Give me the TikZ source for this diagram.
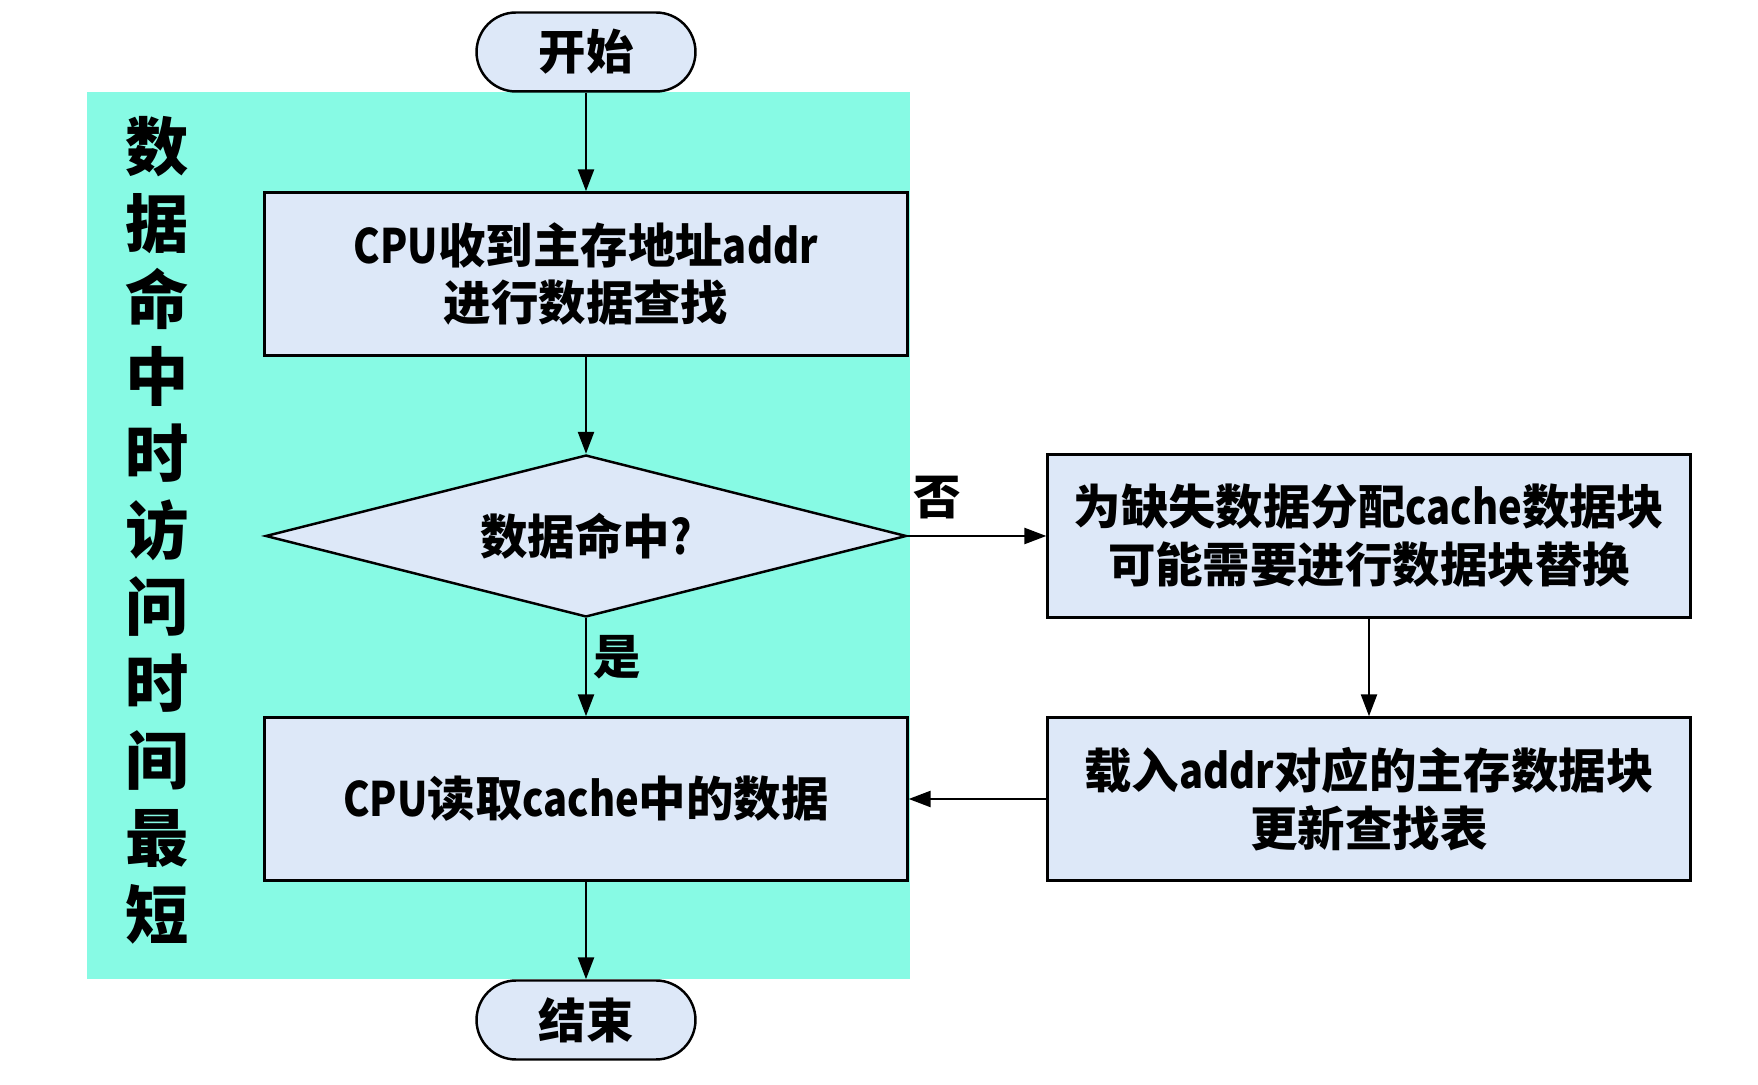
\documentclass[tikz,border=0pt]{standalone}
\usepackage{fontspec}
\setmainfont{Noto Sans CJK SC}
\newfontfamily\narrowfont{Noto Sans CJK SC}[FakeStretch=0.84]
\newcommand\latn[1]{{\narrowfont\bfseries #1}}
\usepackage{tikz}
\usetikzlibrary{shapes.geometric}
\usetikzlibrary{arrows.meta}

\definecolor{hitbg}{RGB}{135,250,228}
\definecolor{boxbg}{RGB}{221,232,248}
\tikzset{
	flow/.style={draw,line width=1.4pt,fill=boxbg,align=center,font=\bfseries\fontsize{27}{33}\selectfont},
	proc/.style={flow,rectangle,minimum width=12.86cm,minimum height=3.26cm},
	term/.style={flow,rectangle,rounded corners=0.79cm,minimum width=4.38cm,minimum height=1.58cm},
	cond/.style={flow,diamond,aspect=4,minimum width=12.82cm,minimum height=3.24cm,inner sep=0pt},
	lbl/.style={font=\bfseries\fontsize{27}{33}\selectfont},
	link/.style={line width=1.4pt,-{Triangle[length=0.44cm,width=0.32cm]}}
}

\begin{document}
\begin{tikzpicture}[x=0.02cm,y=0.02cm]
	\useasboundingbox[fill=white] (0,0) rectangle (1758,1085);
	\fill[hitbg] (87,106) rectangle (910,993);
	\node[align=center,font=\bfseries\fontsize{36}{43.7}\selectfont] (note) at (157,555) {数\\据\\命\\中\\时\\访\\问\\时\\间\\最\\短};
	\node[term] (start) at (586,1033) {开始};
	\node[proc] (find) at (586,811) {\latn{CPU}收到主存地址\latn{addr}\\进行数据查找};
	\node[cond] (hit) at (586,549) {数据命中\latn{?}};
	\node[proc] (rd) at (586,286) {\latn{CPU}读取\latn{cache}中的数据};
	\node[term] (stop) at (586,65) {结束};
	\node[proc] (miss) at (1369,549) {为缺失数据分配\latn{cache}数据块\\可能需要进行数据块替换};
	\node[proc] (ld) at (1369,286) {载入\latn{addr}对应的主存数据块\\更新查找表};
	\draw[link] (start) -- (find);
	\draw[link] (find) -- (hit);
	\draw[link] (hit) -- node[lbl,pos=0.4,right] {是} (rd);
	\draw[link] (hit) -- node[lbl,pos=0.21,above,yshift=0.2cm] {否} (miss);
	\draw[link] (miss) -- (ld);
	\draw[link] (ld) -- (rd);
	\draw[link] (rd) -- (stop);
\end{tikzpicture}
\end{document}
